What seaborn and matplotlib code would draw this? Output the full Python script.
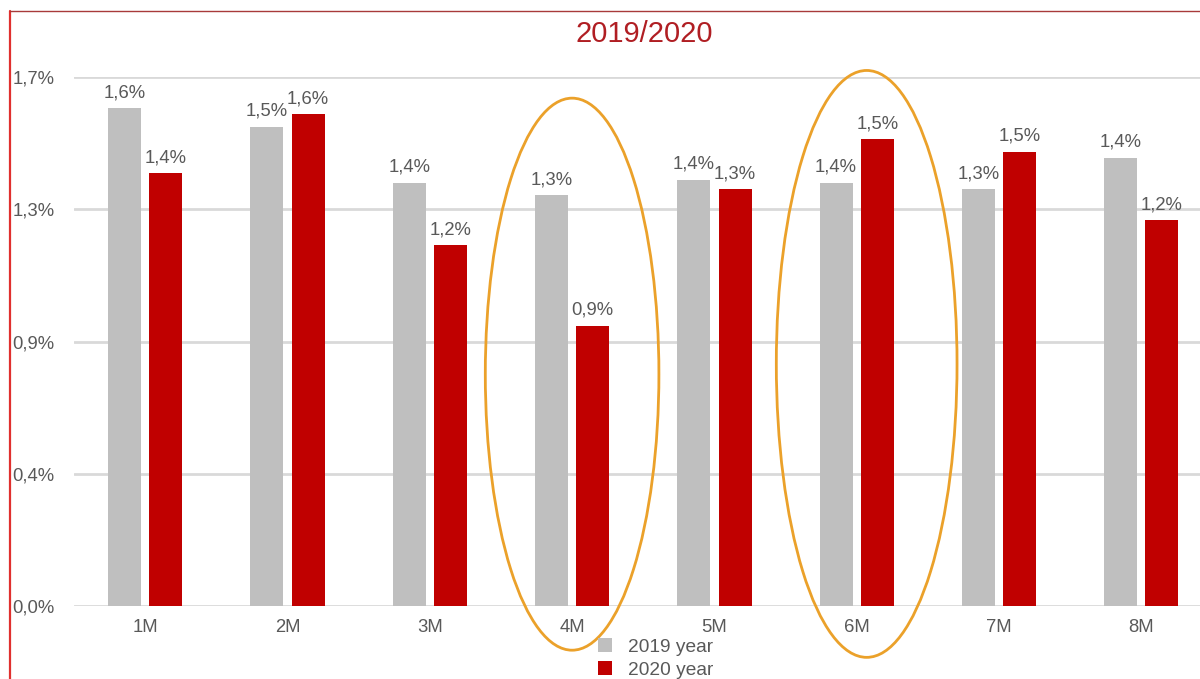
import matplotlib
matplotlib.use("Agg")
import matplotlib.pyplot as plt
from matplotlib.patches import Ellipse, Patch
from matplotlib.lines import Line2D
import seaborn as sns
import pandas as pd

# Monthly rates, percent
months = ["1M", "2M", "3M", "4M", "5M", "6M", "7M", "8M"]
rate_2019 = [1.60, 1.54, 1.36, 1.32, 1.37, 1.36, 1.34, 1.44]
rate_2020 = [1.39, 1.58, 1.16, 0.90, 1.34, 1.50, 1.46, 1.24]
series_names = ["2019 year", "2020 year"]
y_ticks = [0.0, 0.425, 0.85, 1.275, 1.7]
y_tick_labels = ["0,0%", "0,4%", "0,9%", "1,3%", "1,7%"]
title = "2019/2020"

GREY = "#BFBFBF"
RED = "#C00000"
TEXT = "#595959"
GRID = "#D9D9D9"
RING = "#EBA12A"

df = pd.DataFrame({
    "month": months * 2,
    "series": [series_names[0]] * len(months) + [series_names[1]] * len(months),
    "value": rate_2019 + rate_2020,
})

sns.set_theme(style="white")
plt.rcParams["font.family"] = ["Liberation Sans", "DejaVu Sans"]

fig = plt.figure(figsize=(12, 6.79), dpi=100)
ax = fig.add_axes([0.0617, 0.1075, 0.9487, 0.7791])

sns.barplot(data=df, x="month", y="value", hue="series", hue_order=series_names,
            palette=[GREY, RED], width=0.58, gap=0.2, legend=False, ax=ax,
            saturation=1, linewidth=0)

ax.set_xlim(-0.5, 7.5)
ax.set_ylim(0, 1.7)
ax.set_yticks(y_ticks)
ax.set_yticklabels(y_tick_labels)
for g in y_ticks:
    ax.axhline(g, color=GRID, lw=2, zorder=0)
for s in ax.spines.values():
    s.set_visible(False)
ax.set_xlabel("")
ax.set_ylabel("")
ax.tick_params(axis="both", length=0, labelsize=13.3, labelcolor=TEXT)
ax.tick_params(axis="y", pad=44.5)
for lbl in ax.get_yticklabels():
    lbl.set_horizontalalignment("left")
ax.tick_params(axis="x", pad=9)

for cont, vals in zip(ax.containers, [rate_2019, rate_2020]):
    ax.bar_label(cont, labels=[f"{v:.1f}".replace(".", ",") + "%" for v in vals],
                 padding=5, fontsize=13.3, color=TEXT)

# Highlight rings around April and June
for cx, cy, w, h in [(3.0, 0.745, 1.22, 1.774), (5.07, 0.778, 1.27, 1.886)]:
    ax.add_patch(Ellipse((cx, cy), w, h, fill=False, edgecolor=RING, lw=2,
                         clip_on=False, zorder=5))

fig.text(644 / 1200, 1 - 34 / 679, title, ha="center", va="center",
         fontsize=21, color="#B01E23")

handles = [Patch(facecolor=GREY, edgecolor="none"), Patch(facecolor=RED, edgecolor="none")]
fig.legend(handles, series_names, loc="upper left",
           bbox_to_anchor=(598 / 1200, 1 - 638 / 679), frameon=False,
           fontsize=13.8, labelcolor=TEXT, handlelength=0.75, handleheight=0.75,
           handletextpad=0.8, labelspacing=0.3, borderpad=0, borderaxespad=0)

# Frame lines on the left and top edges
fig.add_artist(Line2D([10 / 1200, 10 / 1200], [0, 1 - 11 / 679],
                      transform=fig.transFigure, color="#E0302E", lw=1.6))
fig.add_artist(Line2D([10 / 1200, 1], [1 - 11 / 679, 1 - 11 / 679],
                      transform=fig.transFigure, color="#A83A3A", lw=1.0))

fig.savefig("out.png", dpi=100)
